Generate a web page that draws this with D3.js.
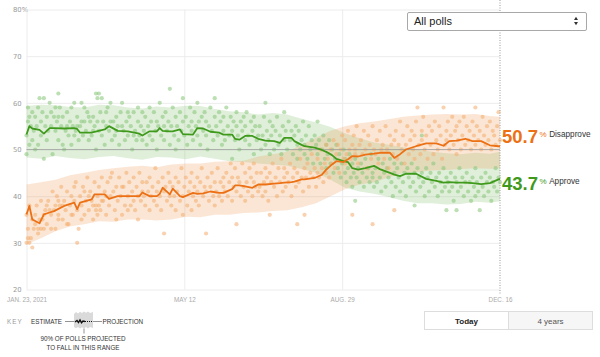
<!DOCTYPE html>
<html><head><meta charset="utf-8">
<script src="https://cdn.jsdelivr.net/npm/d3@7"></script>
<style>
html,body{margin:0;padding:0;background:#fff;}
svg{display:block;font-family:"Liberation Sans",Arial,sans-serif;}
</style></head><body>
<svg id="chart" width="600" height="357"></svg>
<script>
// ---------- DATA ----------
const xTickDays = [0, 109, 218, 327];
const xTickLabels = ["JAN. 23, 2021", "MAY 12", "AUG. 29", "DEC. 16"];
const yTicks = [20, 30, 40, 50, 60, 70, 80];
const yTickLabels = ["20", "30", "40", "50", "60", "70", "80%"];

const estDays = [0,2,4,9,12,16,19,26,33,35,37,45,47,54,57,63,70,78,80,85,90,92,94,99,101,106,108,115,118,122,127,133,136,142,144,147,151,156,160,165,171,175,178,183,185,190,192,199,204,207,211,214,219,222,225,229,234,240,244,251,254,258,262,269,276,283,288,292,297,303,308,314,320,326,327];
const approveEst = [53.2,55.0,54.5,54.2,53.4,54.6,54.6,54.5,54.6,54.4,53.6,53.6,53.8,54.3,55.0,54.0,53.9,53.4,53.0,53.9,53.9,54.6,54.0,53.9,53.9,54.3,53.3,53.2,54.6,54.5,53.8,53.6,53.2,53.2,52.3,52.1,52.9,52.9,52.3,51.9,51.8,51.4,52.5,52.5,51.8,51.0,50.7,50.4,49.9,49.5,48.8,48.0,47.5,47.3,46.0,45.7,46.0,46.5,45.8,45.0,44.6,44.3,44.8,44.8,43.7,43.3,42.9,43.0,42.9,42.9,42.8,42.6,42.8,43.6,43.7];
const disapproveEst = [36.1,37.9,35.0,34.2,36.1,36.5,36.8,37.9,38.6,37.2,38.6,39.3,40.4,40.4,39.4,40.0,40.0,40.0,40.8,40.0,40.0,40.5,41.8,40.4,41.6,40.0,39.8,40.7,40.5,40.6,41.0,40.7,40.7,41.5,42.3,42.3,42.1,41.8,42.5,42.5,42.7,42.8,42.9,43.0,43.1,43.6,43.6,43.9,44.6,45.7,46.8,47.5,47.3,47.9,48.6,48.5,48.9,49.1,49.3,49.3,48.2,49.0,50.0,50.7,51.3,51.3,50.8,51.8,51.9,52.3,51.8,51.8,50.9,50.7,50.7];

const bandDays = [0,10,20,30,40,50,60,70,80,90,100,110,120,130,140,150,160,170,180,190,200,210,220,230,240,250,260,270,280,290,300,310,320,327];
const approveLow  = [48.3,48.0,48.6,48.2,47.9,48.4,48.6,48.1,47.8,48.4,48.3,47.9,48.5,48.0,47.5,47.3,47.0,46.8,46.5,45.8,45.0,43.5,41.8,41.0,40.5,39.8,39.0,38.5,38.5,38.2,38.3,38.8,38.6,38.9];
const approveHigh = [59.3,59.6,59.5,59.1,59.0,59.6,59.5,59.0,58.8,59.2,59.0,59.4,59.3,58.7,58.2,58.0,57.5,57.8,57.5,56.6,55.8,54.8,53.5,52.4,51.5,51.0,50.5,50.0,49.5,49.2,49.0,49.3,49.1,49.5];
const disapproveLow  = [29.7,31.0,32.5,33.5,34.0,34.6,34.5,35.0,35.0,34.8,35.0,35.6,35.5,36.0,36.0,36.4,36.5,36.8,37.0,37.6,38.5,40.0,41.5,42.5,43.0,44.0,45.0,45.2,45.5,45.6,45.8,46.0,45.9,46.0];
const disapproveHigh = [42.5,43.0,43.5,44.5,45.0,45.6,46.0,46.3,46.5,46.2,46.8,47.0,47.0,47.4,47.5,47.6,48.5,49.0,49.5,51.0,52.5,54.0,55.0,55.6,56.0,56.5,57.0,57.3,57.5,57.6,57.5,57.6,57.2,57.0];

// polls: [day, approve, disapprove]
const polls = [
[0,53,36],[0,49,30],[1,56,33],[1,59,31],[2,57,38],[2,51,30],[3,55,31],[4,58,35],[4,52,29],[5,54,33],[6,50,36],[6,57,34],[7,55,38],[8,51,33],[8,59,32],[9,61,35],[10,56,39],[10,53,33],[11,58,35],[12,61,36],[12,48,33],[13,55,37],[14,57,34],[14,52,38],[15,54,39],[16,60,37],[17,55,36],[17,58,33],[18,49,41],[19,57,37],[20,54,33],[20,59,38],
[21,56,40],[22,62,35],[22,52,36],[22,57,39],[23,59,38],[24,55,42],[25,57,35],[25,51,38],[26,50,39],[27,54,37],[28,58,41],[28,55,34],[29,53,34],[30,56,38],[31,51,40],[31,59,36],[32,55,36],[33,60,39],[33,53,42],[34,54,43],[35,57,37],[35,55,30],[36,52,33],[37,55,40],[38,60,38],[38,56,35],[39,53,42],[40,56,36],[40,59,41],
[41,54,39],[42,58,44],[43,52,37],[43,57,40],[44,56,41],[45,53,39],[46,57,35],[46,54,38],[47,55,43],[48,62,37],[48,50,38],[49,61,40],[49,56,36],[50,62,38],[50,54,42],[51,58,37],[52,53,44],[52,61,39],[53,56,39],[54,51,41],[55,55,36],[55,58,40],[56,59,43],[57,54,38],[58,60,40],[58,56,44],[59,52,45],[60,56,41],[61,53,37],[62,57,42],[62,54,35],[63,55,39],[64,51,44],[65,58,40],[66,60,36],[66,55,42],[67,54,42],[68,52,38],[69,56,45],[70,53,40],[70,58,37],[71,57,43],[72,55,38],[73,50,41],[74,58,44],[74,53,39],[75,54,37],[76,52,42],[77,56,40],[77,59,35],[78,53,45],[79,55,39],[80,58,43],[80,52,41],
[81,54,40],[82,57,38],[83,51,43],[84,55,41],[85,59,37],[85,53,44],[86,56,40],[87,52,42],[88,58,39],[89,54,46],[90,50,41],[90,56,38],[91,55,43],[92,60,40],[93,53,37],[94,57,44],[95,55,32],[95,52,41],[96,58,42],[97,54,39],[98,56,45],[99,63,40],[99,51,43],[100,55,38],[101,59,42],[102,53,40],[103,57,44],[103,50,37],[104,55,41],[105,52,43],[106,58,39],[107,54,46],[108,56,40],[108,61,36],[109,53,42],[110,57,44],[111,51,38],[112,55,41],[113,59,43],[114,54,37],[114,56,45],[115,52,40],[116,58,42],[117,55,39],[118,53,44],[118,60,41],[119,56,38],[120,51,43],[121,57,46],[122,54,40],[123,58,42],[124,53,32],[124,56,41],[125,50,44],[126,55,39],[127,59,42],[128,54,45],[129,52,40],[130,57,43],[130,61,38],[131,55,41],[132,53,46],[133,58,40],[134,56,43],[135,51,39],[136,54,44],[136,57,42],[137,52,41],[138,59,45],[139,55,40],[140,53,43],[141,57,47],[142,54,39],[142,48,44],[143,56,42],[144,52,46],[145,58,34],[145,55,41],[146,53,44],[147,50,43],[148,56,40],[149,54,47],[150,57,42],[151,52,45],[151,55,39],[152,58,43],[153,53,41],[154,51,46],[155,56,44],[156,54,40],[157,49,43],[157,57,47],[158,55,42],[159,52,45],[160,53,41],
[161,55,42],[162,50,45],[163,53,40],[164,57,43],[165,60,41],[165,51,46],[166,54,44],[167,52,39],[168,56,36],[168,49,45],[169,53,43],[170,55,47],[171,50,42],[172,54,44],[173,57,40],[174,51,46],[175,53,43],[176,49,48],[177,55,41],[178,58,44],[178,52,46],[179,54,42],[180,50,45],[181,56,43],[182,52,47],[183,54,40],[184,49,44],[185,53,46],[186,55,42],[187,51,34],[187,48,45],[188,54,43],[189,50,48],[190,52,44],[191,56,41],[192,49,36],[192,51,46],[193,53,44],[194,48,47],[195,55,42],[196,50,45],[197,52,49],[198,47,44],[199,53,46],[200,51,42],[201,56,48],[201,49,45],[202,52,44],[203,47,50],[204,50,46],[205,53,43],[206,48,47],[207,51,51],[207,46,45],[208,49,48],[209,52,44],[210,47,50],[211,50,47],[212,45,52],[213,48,46],[214,51,49],[215,46,51],[216,49,45],[217,44,50],[218,47,53],[219,50,48],[220,45,52],[220,48,47],[221,43,49],[222,46,54],[223,49,50],[224,44,48],[225,47,36],[225,42,51],[226,45,53],[227,39,49],[227,48,50],[228,44,55],[229,46,47],[230,43,51],[231,47,52],[232,45,49],[233,42,54],[234,48,50],[235,44,46],[236,46,53],[237,43,51],[238,49,48],[239,45,55],[239,44,34],[240,42,50],
[241,46,49],[242,43,52],[243,48,47],[244,44,54],[245,41,50],[246,47,51],[247,45,48],[248,42,55],[249,46,50],[250,44,46],[251,48,53],[252,43,51],[253,40,49],[254,45,37],[254,47,52],[255,42,54],[256,46,48],[257,44,51],[258,41,56],[259,47,50],[260,43,53],[261,45,47],[262,40,51],[263,46,55],[264,44,49],[265,42,52],[266,47,54],[267,43,50],[268,38,48],[268,45,53],[269,41,56],[270,46,59],[271,44,51],[272,42,49],[273,53,54],[273,45,52],[274,43,57],[275,40,50],[276,46,53],[277,44,48],[278,41,55],[279,45,51],[280,43,54],[281,47,49],[282,42,56],[283,44,52],[284,40,50],[285,45,55],[286,43,53],[287,41,48],[288,46,59],[289,42,51],[290,37,54],[290,44,52],[291,43,56],[292,41,50],[293,45,53],[294,42,57],[295,39,51],[296,44,54],[297,37,49],[297,43,55],[298,41,52],[299,46,56],[300,42,50],[301,44,53],[302,40,57],[303,43,51],[304,45,55],[305,41,52],[306,43,54],[307,39,50],[308,44,56],[309,42,53],[310,46,59],[310,40,51],[311,43,55],[312,41,52],[313,37,54],[314,44,50],[315,42,57],[316,40,53],[317,45,51],[318,43,55],[319,41,52],[320,44,56],[321,39,50],[322,43,54],[323,42,53],[324,46,51],[325,41,55],[326,44,58],[327,43,52]
];

const latestApprove = 43.7;
const latestDisapprove = 50.7;

// ---------- COLORS ----------
const green = "#3f9a1c", orange = "#ec7014";

// ---------- SCALES ----------
const svg = d3.select("#chart");
const x = d3.scaleLinear().domain([0, 327]).range([26.5, 500]);
const y = d3.scaleLinear().domain([20, 80]).range([289.5, 9.5]);

// gridlines / y axis
const yAxis = d3.axisLeft(y).tickValues(yTicks)
  .tickFormat((d, i) => yTickLabels[i]).tickSize(-(500 - 26.5)).tickPadding(0);
svg.append("g").attr("transform", "translate(26.5,0)").call(yAxis)
  .call(g => g.select(".domain").remove())
  .call(g => g.selectAll(".tick line").attr("stroke", "#ececec"))
  .call(g => g.selectAll(".tick text").attr("x", -13.5).attr("text-anchor", "start")
      .attr("fill", "#9a9a9a").attr("font-size", 6.8).attr("font-family", "'DejaVu Sans',sans-serif"));

// x axis
const xAxis = d3.axisBottom(x).tickValues(xTickDays)
  .tickFormat((d, i) => xTickLabels[i]).tickSize(-(289.5 - 9.5)).tickPadding(8);
svg.append("g").attr("transform", "translate(0,289.5)").call(xAxis)
  .call(g => g.select(".domain").remove())
  .call(g => g.selectAll(".tick line").attr("stroke", (d, i) => i === 3 ? "none" : "#ececec"))
  .call(g => g.selectAll(".tick text").attr("fill", "#aaa").attr("font-size", 6.3));

// bands
const bandData = bandDays.map((d, i) => ({d, aL: approveLow[i], aH: approveHigh[i], dL: disapproveLow[i], dH: disapproveHigh[i]}));
svg.append("path").datum(bandData)
  .attr("d", d3.area().x(p => x(p.d)).y0(p => y(p.aL)).y1(p => y(p.aH)))
  .attr("fill", "rgb(120,190,100)").attr("fill-opacity", 0.24);
svg.append("path").datum(bandData)
  .attr("d", d3.area().x(p => x(p.d)).y0(p => y(p.dL)).y1(p => y(p.dH)))
  .attr("fill", "rgb(240,150,80)").attr("fill-opacity", 0.24);

// dots
svg.append("g").selectAll("circle").data(polls).join("circle")
  .attr("cx", p => x(p[0])).attr("cy", p => y(p[1])).attr("r", 2.1)
  .attr("fill", "rgb(140,200,125)").attr("fill-opacity", 0.58);
svg.append("g").selectAll("circle").data(polls).join("circle")
  .attr("cx", p => x(p[0])).attr("cy", p => y(p[2])).attr("r", 2.1)
  .attr("fill", "rgb(245,175,115)").attr("fill-opacity", 0.58);

// 50% line
svg.append("line").attr("x1", x(0)).attr("x2", x(327)).attr("y1", y(50)).attr("y2", y(50))
  .attr("stroke", "#999").attr("stroke-opacity", 0.7).attr("stroke-width", 1);

// dotted "today" line
svg.append("line").attr("x1", x(327)).attr("x2", x(327)).attr("y1", 0).attr("y2", 295)
  .attr("stroke", "#999").attr("stroke-width", 1).attr("stroke-dasharray", "1,1.5");

// estimate lines
const estData = estDays.map((d, i) => ({d, a: approveEst[i], r: disapproveEst[i]}));
svg.append("path").datum(estData)
  .attr("d", d3.line().x(p => x(p.d)).y(p => y(p.a)))
  .attr("fill", "none").attr("stroke", green).attr("stroke-width", 1.8).attr("stroke-linejoin", "round");
svg.append("path").datum(estData)
  .attr("d", d3.line().x(p => x(p.d)).y(p => y(p.r)))
  .attr("fill", "none").attr("stroke", orange).attr("stroke-width", 1.8).attr("stroke-linejoin", "round");

// end labels
const yD = y(latestDisapprove), yA = y(latestApprove);
const mid = (yD + yA) / 2 - 2.5;
function endLabel(val, name, color, cy) {
  const t = svg.append("text").attr("x", 502).attr("y", cy + 6.5);
  t.append("tspan").text(val.toFixed(1)).attr("font-size", 18.5).attr("font-weight", "bold").attr("fill", color);
  t.append("tspan").text("%").attr("font-size", 8).attr("fill", color).attr("dx", 1.5).attr("dy", -6);
  t.append("tspan").text(name).attr("font-size", 8.2).attr("fill", "#333").attr("dx", 2.5);
}
endLabel(latestDisapprove, "Disapprove", orange, mid - 23.5);
endLabel(latestApprove, "Approve", green, mid + 23.5);

// dropdown
const dd = svg.append("g");
dd.append("rect").attr("x", 407.5).attr("y", 12.5).attr("width", 179).attr("height", 18)
  .attr("rx", 1.5).attr("fill", "#fff").attr("stroke", "#a8a8a8");
dd.append("text").attr("x", 414).attr("y", 25.3).attr("font-size", 11).attr("fill", "#222").text("All polls");
dd.append("path").attr("d", "M574,20 L576,16.8 L578,20 Z M574,22 L576,25.2 L578,22 Z").attr("fill", "#333");

// buttons
const btn = svg.append("g");
btn.append("rect").attr("x", 424.5).attr("y", 311.5).attr("width", 84).attr("height", 18).attr("fill", "#fff").attr("stroke", "#ddd");
btn.append("rect").attr("x", 508.5).attr("y", 311.5).attr("width", 84).attr("height", 18).attr("fill", "#f6f6f6").attr("stroke", "#ddd");
btn.append("text").attr("x", 466.5).attr("y", 323.5).attr("text-anchor", "middle").attr("font-size", 8).attr("font-weight", "bold").attr("fill", "#222").text("Today");
btn.append("text").attr("x", 550.5).attr("y", 323.5).attr("text-anchor", "middle").attr("font-size", 8).attr("fill", "#555").text("4 years");

// key
const key = svg.append("g").attr("font-size", 6.3).attr("fill", "#333");
key.append("text").attr("x", 7).attr("y", 323.5).attr("fill", "#999").attr("letter-spacing", 1).text("KEY");
key.append("text").attr("x", 31).attr("y", 323.5).text("ESTIMATE");
key.append("line").attr("x1", 65).attr("x2", 75).attr("y1", 321.5).attr("y2", 321.5).attr("stroke", "#666").attr("stroke-width", 0.7);
key.append("path").attr("d", "M74,314 L76,312 L78,313.5 L80,311.8 L82,313 L84,311.5 L86,312.8 L88,311.5 L90,313 L93,312 L93,328 L90,327 L88,328.5 L86,327 L84,328.5 L82,327.3 L80,328.6 L78,327 L76,328.2 L74,327 Z")
  .attr("fill", "#dadada");
key.append("path").attr("d", "M75,322 L77,320.5 L78.5,322.5 L80,320 L81.5,322.8 L83,321 L85,321.5")
  .attr("fill", "none").attr("stroke", "#111").attr("stroke-width", 1.4);
key.append("line").attr("x1", 85).attr("x2", 93).attr("y1", 321.5).attr("y2", 321.5).attr("stroke", "#111").attr("stroke-width", 1.2).attr("stroke-dasharray", "1,1");
key.append("line").attr("x1", 93).attr("x2", 102).attr("y1", 321.5).attr("y2", 321.5).attr("stroke", "#666").attr("stroke-width", 0.7);
key.append("text").attr("x", 102.5).attr("y", 323.5).text("PROJECTION");
key.append("line").attr("x1", 84).attr("x2", 84).attr("y1", 328.5).attr("y2", 333.5).attr("stroke", "#666").attr("stroke-width", 0.7);
key.append("text").attr("x", 83).attr("y", 341).attr("text-anchor", "middle").text("90% OF POLLS PROJECTED");
key.append("text").attr("x", 83).attr("y", 349.5).attr("text-anchor", "middle").text("TO FALL IN THIS RANGE");
</script>
</body></html>
